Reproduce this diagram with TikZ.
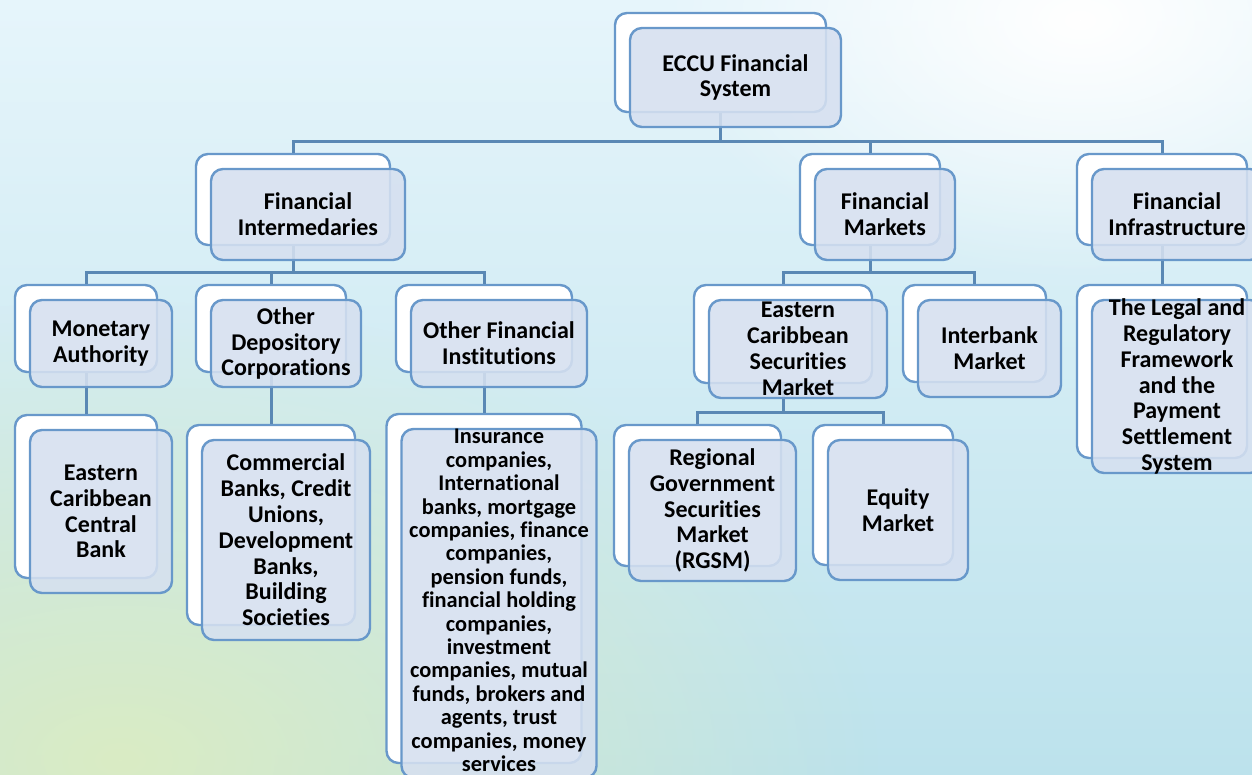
\documentclass[tikz,border=0pt]{standalone}
\usepackage{fontspec}
\setmainfont{Carlito}[Ligatures=NoCommon]
\usetikzlibrary{positioning,fadings}

\definecolor{boxline}{RGB}{104,152,202}
\definecolor{linkline}{RGB}{90,136,180}
\definecolor{boxfill}{RGB}{214,224,240}
\definecolor{bgpale}{RGB}{230,245,251}
\definecolor{bgcyan}{RGB}{188,226,236}
\definecolor{bggreen}{RGB}{218,236,196}
\tikzfading[name=softspot, inner color=transparent!0, outer color=transparent!100]

\begin{document}
\begin{tikzpicture}[x=0.5pt,y=-0.5pt,on grid,
	boxsize/.style 2 args={minimum width=#1*0.5pt,minimum height=#2*0.5pt},
	backbox/.style={draw=boxline,fill=white,line width=1.2pt,rounded corners=6pt},
	frontbox/.style={draw=boxline,fill=boxfill,fill opacity=0.88,line width=1.2pt,rounded corners=6pt},
	boxtext/.style={font=\bfseries\fontsize{12}{12.9}\selectfont,align=center,text=black,text opacity=1,inner sep=0pt},
	link/.style={draw=linkline,line width=1.5pt}]

	% background
	\useasboundingbox (0,0) rectangle (1252,775);
	\shade[top color=bgpale,bottom color=bgcyan] (0,0) rectangle (1252,775);
	\fill[white,path fading=softspot] (1080,20) ellipse (420 and 260);
	\fill[bggreen,path fading=softspot] (120,760) ellipse (760 and 460);

	% back boxes
	\node[backbox,boxsize={211}{99}] (eccu) at (720.5,62.5) {};
	\node[backbox,boxsize={194}{91}] (fint) at (293,199.5) {};
	\node[backbox,boxsize={140}{91}] (fmkt) at (870,199.5) {};
	\node[backbox,boxsize={170}{91}] (finf) at (1162,199.5) {};
	\node[backbox,boxsize={142}{87}] (mon) at (86,328.5) {};
	\node[backbox,boxsize={150}{87}] (odc) at (271,328.5) {};
	\node[backbox,boxsize={176}{87}] (ofi) at (484,328.5) {};
	\node[backbox,boxsize={178}{98}] (ecsm) at (783,334) {};
	\node[backbox,boxsize={143}{97}] (ibm) at (974.5,333.5) {};
	\node[backbox,boxsize={170}{173}] (legal) at (1162,371.5) {};
	\node[backbox,boxsize={142}{163}] (eccb) at (86,496.5) {};
	\node[backbox,boxsize={168}{200}] (comm) at (271,525) {};
	\node[backbox,boxsize={195}{349}] (ins) at (484,588.5) {};
	\node[backbox,boxsize={167}{141}] (rgsm) at (697.5,495.5) {};
	\node[backbox,boxsize={140}{140}] (eq) at (883,495) {};

	% links
	\draw[link] (eccu.south) -- ++(0,28) coordinate (topbus) -| (fint.north);
	\draw[link] (topbus) -| (fmkt.north);
	\draw[link] (topbus) -| (finf.north);
	\draw[link] (fint.south) -- ++(0,26) coordinate (fintbus) -| (mon.north);
	\draw[link] (fintbus) -| (odc.north);
	\draw[link] (fintbus) -| (ofi.north);
	\draw[link] (fmkt.south) -- ++(0,26) coordinate (fmktbus) -| (ecsm.north);
	\draw[link] (fmktbus) -| (ibm.north);
	\draw[link] (finf.south) -- (legal.north);
	\draw[link] (mon.south) -- (eccb.north);
	\draw[link] (odc.south) -- (comm.north);
	\draw[link] (ofi.south) -- (ins.north);
	\draw[link] (ecsm.south) -- ++(0,28) coordinate (ecsmbus) -| (rgsm.north);
	\draw[link] (ecsmbus) -| (eq.north);

	% front boxes
	\node[frontbox,boxsize={211}{99},below right=7.5pt and 7.5pt of eccu,
		label={[boxtext]center:{ECCU Financial\\System}}] (eccu-f) {};
	\node[frontbox,boxsize={194}{91},below right=7.5pt and 7.5pt of fint,
		label={[boxtext]center:{Financial\\Intermedaries}}] (fint-f) {};
	\node[frontbox,boxsize={140}{91},below right=7.5pt and 7.5pt of fmkt,
		label={[boxtext]center:{Financial\\Markets}}] (fmkt-f) {};
	\node[frontbox,boxsize={170}{91},below right=7.5pt and 7.5pt of finf,
		label={[boxtext]center:{Financial\\Infrastructure}}] (finf-f) {};
	\node[frontbox,boxsize={142}{87},below right=7.5pt and 7.5pt of mon,
		label={[boxtext]center:{Monetary\\Authority}}] (mon-f) {};
	\node[frontbox,boxsize={150}{87},below right=7.5pt and 7.5pt of odc,
		label={[boxtext]center:{Other\\Depository\\Corporations}}] (odc-f) {};
	\node[frontbox,boxsize={176}{87},below right=7.5pt and 7.5pt of ofi,
		label={[boxtext]center:{Other Financial\\Institutions}}] (ofi-f) {};
	\node[frontbox,boxsize={178}{98},below right=7.5pt and 7.5pt of ecsm,
		label={[boxtext]center:{Eastern\\Caribbean\\Securities\\Market}}] (ecsm-f) {};
	\node[frontbox,boxsize={143}{97},below right=7.5pt and 7.5pt of ibm,
		label={[boxtext]center:{Interbank\\Market}}] (ibm-f) {};
	\node[frontbox,boxsize={170}{173},below right=7.5pt and 7.5pt of legal,
		label={[boxtext]center:{The Legal and\\Regulatory\\Framework\\and the\\Payment\\Settlement\\System}}] (legal-f) {};
	\node[frontbox,boxsize={142}{163},below right=7.5pt and 7.5pt of eccb,
		label={[boxtext]center:{Eastern\\Caribbean\\Central\\Bank}}] (eccb-f) {};
	\node[frontbox,boxsize={168}{200},below right=7.5pt and 7.5pt of comm,
		label={[boxtext]center:{Commercial\\Banks, Credit\\Unions,\\Development\\Banks,\\Building\\Societies}}] (comm-f) {};
	\node[frontbox,boxsize={195}{349},below right=7.5pt and 7.5pt of ins,
		label={[boxtext,yshift=1.5pt,font=\bfseries\fontsize{11.2}{11.7}\selectfont]center:{Insurance\\companies,\\International\\banks, mortgage\\companies, finance\\companies,\\pension funds,\\financial holding\\companies,\\investment\\companies, mutual\\funds, brokers and\\agents, trust\\companies, money\\services}}] (ins-f) {};
	\node[frontbox,boxsize={167}{141},below right=7.5pt and 7.5pt of rgsm,
		label={[boxtext]center:{Regional\\Government\\Securities\\Market\\(RGSM)}}] (rgsm-f) {};
	\node[frontbox,boxsize={140}{140},below right=7.5pt and 7.5pt of eq,
		label={[boxtext]center:{Equity\\Market}}] (eq-f) {};
\end{tikzpicture}
\end{document}
